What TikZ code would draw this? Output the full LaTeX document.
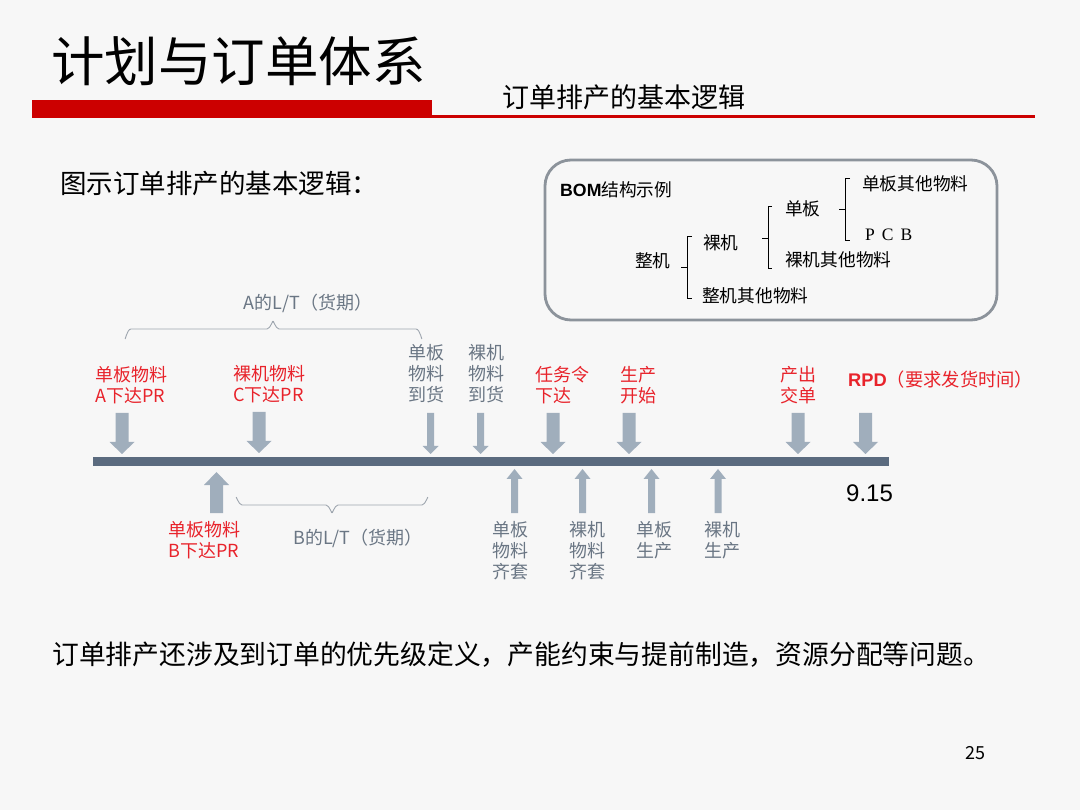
\documentclass[tikz,border=0pt]{standalone}
\usepackage{fontspec}
\setmainfont{Noto Sans CJK SC}
\newfontfamily\lsans{Liberation Sans}
\newfontfamily\lserif{Liberation Serif}
\definecolor{tlred}{HTML}{E8232B}
\definecolor{tlgray}{HTML}{6A7684}
\definecolor{arrowc}{HTML}{A0AEBC}
\definecolor{barc}{HTML}{5B6B7F}
\definecolor{boxc}{HTML}{8C939B}
\definecolor{titlered}{HTML}{CC0000}
\definecolor{bracec}{HTML}{9EA6AF}
\newcommand\tlDown[6]{% x, top, tip, shaft half, head half, head length
  \fill[arrowc] ({#1-#4},#2) -- ({#1+#4},#2) -- ({#1+#4},{#3-#6}) -- ({#1+#5},{#3-#6})
    -- (#1,#3) -- ({#1-#5},{#3-#6}) -- ({#1-#4},{#3-#6}) -- cycle;}
\newcommand\tlUp[6]{% x, tip, bottom, shaft half, head half, head length
  \fill[arrowc] ({#1-#4},#3) -- ({#1+#4},#3) -- ({#1+#4},{#2+#6}) -- ({#1+#5},{#2+#6})
    -- (#1,#2) -- ({#1-#5},{#2+#6}) -- ({#1-#4},{#2+#6}) -- cycle;}
\tikzset{
  lbl/.style={inner sep=0pt, font=\fontsize{18}{21}\selectfont, align=left},
  redlbl/.style={lbl, text=tlred},
  graylbl/.style={lbl, text=tlgray},
  bomtxt/.style={inner sep=0pt, font=\fontsize{17.7}{21}\selectfont, anchor=west},
  bracketline/.style={draw=black, line width=0.8pt},
  bracepath/.style={draw=bracec, line width=0.9pt}
}
\begin{document}
\begin{tikzpicture}[x=1pt,y=-1pt]
\useasboundingbox (0,0) rectangle (1080,810);
\fill[white!97!black] (0,0) rectangle (1080,810);

% title
\node[inner sep=0pt, anchor=west, font=\fontsize{53.5}{60}\selectfont] (title) at (51,61) {计划与订单体系};
\fill[titlered] (32,100) rectangle (432,118);
\fill[titlered] (432,115) rectangle (1035,118.5);
\node[inner sep=0pt, anchor=west, font=\fontsize{27}{30}\selectfont] (subtitle) at (502,97) {订单排产的基本逻辑};

\node[inner sep=0pt, anchor=west, font=\fontsize{26.5}{30}\selectfont] (intro) at (60,183) {图示订单排产的基本逻辑：};

% BOM box
\draw[boxc, line width=2.8pt, rounded corners=26pt] (545,160) rectangle (997,320);
\node[bomtxt] (bomt) at (560,190) {{\lsans\bfseries BOM}结构示例};
\node[bomtxt] (zj) at (635,261) {整机};
\node[bomtxt] (lj) at (703,243) {裸机};
\node[bomtxt] (zjq) at (702,296) {整机其他物料};
\node[bomtxt] (db) at (785,209) {单板};
\node[bomtxt] (ljq) at (785,260) {裸机其他物料};
\node[bomtxt] (dbq) at (862,184) {单板其他物料};
\node[bomtxt, font=\fontsize{17.5}{21}\selectfont\lserif] (pcb) at (865,235) {P\hspace{7pt}C\hspace{7pt}B};
\draw[bracketline] (692,236) -- (687,236) -- (687,298) -- (692,298);
\draw[bracketline] (687,267) -- (681,267);
\draw[bracketline] (772,206) -- (768,206) -- (768,268) -- (772,268);
\draw[bracketline] (768,238) -- (762,238);
\draw[bracketline] (850,178) -- (845,178) -- (845,240) -- (850,240);
\draw[bracketline] (845,209) -- (839,209);

% timeline bar
\fill[barc] (93,457) rectangle (889,466);

% A lead time brace
\node[graylbl] (alt) at (308,303) {A的L/T（货期）};
\draw[bracepath] (125,338) to[out=-90,in=180] (131,329) -- (267,329) to[out=0,in=90] (273,322)
  to[out=90,in=180] (279,329) -- (416,329) to[out=0,in=-90] (422,338);
% B lead time brace
\node[graylbl] (blt) at (358,538) {B的L/T（货期）};
\draw[bracepath] (236,498) to[out=90,in=180] (242,505) -- (326,505) to[out=0,in=-90] (332,512)
  to[out=-90,in=180] (338,505) -- (422,505) to[out=0,in=90] (428,498);

% down arrows
\tlDown{122}{413}{454}{6.5}{12.5}{12}
\tlDown{259}{412}{453}{6.5}{12.5}{12}
\tlDown{430.5}{413}{454}{3.5}{8}{8}
\tlDown{480.5}{413}{454}{3.5}{8}{8}
\tlDown{553}{413}{454}{6.5}{12.5}{12}
\tlDown{629}{413}{454}{6.5}{12.5}{12}
\tlDown{798}{413}{454}{6.5}{12.5}{12}
\tlDown{865.5}{413}{454}{6.5}{12.5}{12}

% up arrows
\tlUp{216.5}{472}{513}{6.5}{12.5}{13}
\tlUp{514.5}{469}{513}{3.5}{8}{10}
\tlUp{582.5}{469}{513}{3.5}{8}{10}
\tlUp{651.5}{469}{513}{3.5}{8}{10}
\tlUp{718}{469}{513}{3.5}{8}{10}

% labels above
\node[redlbl, anchor=west] (la) at (95,385) {单板物料\\A下达PR};
\node[redlbl, anchor=west] (lc) at (233,384) {裸机物料\\C下达PR};
\node[graylbl, anchor=west] (ldb) at (408,374) {单板\\物料\\到货};
\node[graylbl, anchor=west] (llj) at (468,374) {裸机\\物料\\到货};
\node[redlbl, anchor=west] (lrw) at (535,385) {任务令\\下达};
\node[redlbl, anchor=west] (lsc) at (620,385) {生产\\开始};
\node[redlbl, anchor=west] (lcc) at (780,385) {产出\\交单};
\node[redlbl, anchor=west, font=\fontsize{18.3}{21}\selectfont] (lrpd) at (848,380) {{\lsans\bfseries RPD}（要求发货时间）};
\node[inner sep=0pt, anchor=west, font=\fontsize{24}{28}\selectfont\lsans] (date) at (846,493) {9.15};

% labels below
\node[redlbl, anchor=west] (lb) at (168,540) {单板物料\\B下达PR};
\node[graylbl, anchor=west] (lqt1) at (492,551) {单板\\物料\\齐套};
\node[graylbl, anchor=west] (lqt2) at (569,551) {裸机\\物料\\齐套};
\node[graylbl, anchor=west] (lsc1) at (636,540) {单板\\生产};
\node[graylbl, anchor=west] (lsc2) at (704,540) {裸机\\生产};

% bottom
\node[inner sep=0pt, anchor=west, font=\fontsize{26.8}{30}\selectfont] (note) at (52,655) {订单排产还涉及到订单的优先级定义，产能约束与提前制造，资源分配等问题。};
\node[inner sep=0pt, anchor=west, font=\fontsize{18}{21}\selectfont] (pg) at (965,753) {25};
\end{tikzpicture}
\end{document}
